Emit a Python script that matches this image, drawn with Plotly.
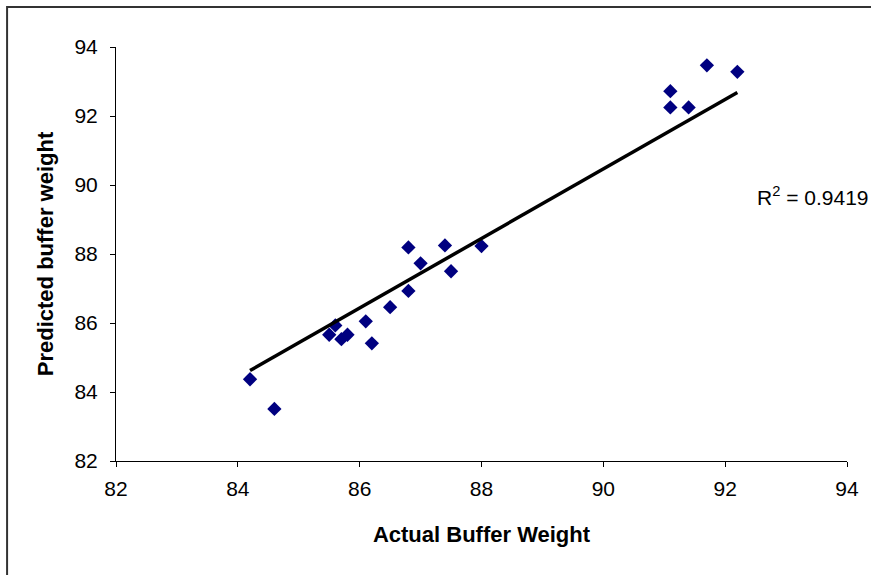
import plotly.graph_objects as go

# Measured vs predicted buffer weight
actual = [84.2, 84.6, 85.5, 85.6, 85.7, 85.8, 86.1, 86.2, 86.5, 86.8,
          86.8, 87.0, 87.4, 87.5, 88.0, 91.1, 91.1, 91.4, 91.7, 92.2]
predicted = [84.37, 83.51, 85.66, 85.93, 85.53, 85.66, 86.05, 85.41, 86.46, 86.93,
             88.19, 87.73, 88.25, 87.50, 88.23, 92.72, 92.25, 92.25, 93.47, 93.28]
axis_ticks = [82, 84, 86, 88, 90, 92, 94]

# Linear trendline (y = slope * x + intercept) and its R² label
trend_slope = 1.0075
trend_intercept = -0.21
r_squared = 0.9419

trend_x = [min(actual), max(actual)]
trend_y = [trend_slope * v + trend_intercept for v in trend_x]

font = "Liberation Sans, Arial, sans-serif"

fig = go.Figure()
fig.add_trace(go.Scatter(
    x=actual, y=predicted, mode="markers",
    marker=dict(symbol="diamond", size=11, color="#000080",
                line=dict(width=0)),
    showlegend=False,
))
fig.add_trace(go.Scatter(
    x=trend_x, y=trend_y, mode="lines",
    line=dict(color="black", width=3.5),
    showlegend=False,
))

axis_common = dict(
    range=[82, 94], tickvals=axis_ticks, showgrid=False, zeroline=False,
    showline=True, linecolor="black", linewidth=1,
    ticks="outside", ticklen=5, tickcolor="black",
    tickfont=dict(family=font, size=21, color="black"),
)
fig.update_xaxes(**axis_common, ticklabelstandoff=4,
                 title=dict(text="<b>Actual Buffer Weight</b>", standoff=27,
                            font=dict(family=font, size=22, color="black")))
fig.update_yaxes(**axis_common, ticklabelstandoff=8,
                 title=dict(text="<b>Predicted buffer weight</b>", standoff=14,
                            font=dict(family=font, size=22, color="black")))

fig.add_annotation(
    text=f"R<sup>2</sup> = {r_squared}", xref="paper", yref="paper",
    x=0.874, y=0.64, xanchor="left", yanchor="middle", showarrow=False,
    font=dict(family=font, size=21, color="black"),
)

# Outer chart frame
fig.add_shape(type="rect", xref="paper", yref="paper",
              x0=-0.149, x1=1.4, y0=-0.6, y1=1.0966,
              line=dict(color="#333333", width=2), layer="below")

fig.update_layout(
    width=871, height=575,
    margin=dict(l=116, r=24, t=47, b=114),
    paper_bgcolor="white", plot_bgcolor="white",
)

fig.write_html("out.html")
